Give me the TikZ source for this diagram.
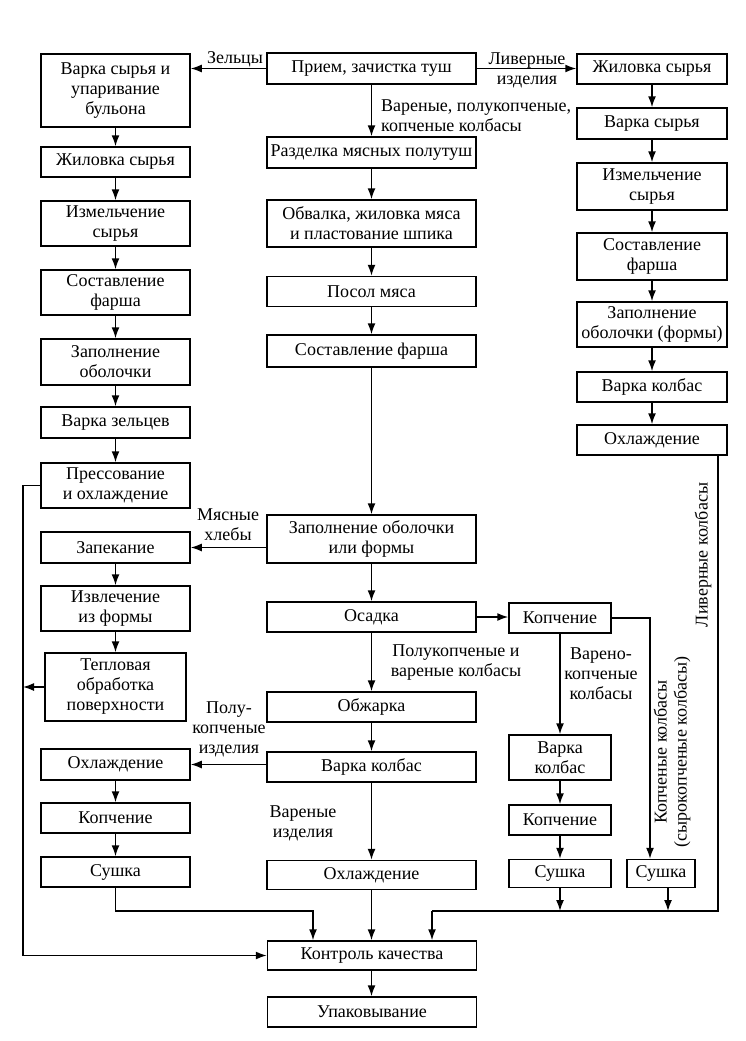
\documentclass[tikz,border=0pt]{standalone}
\usepackage{fontspec}
\setmainfont{Liberation Serif}
\usetikzlibrary{arrows.meta}
\tikzset{
  box/.style={draw, line width=1.5pt, align=center, inner sep=0pt, font=\fontsize{18}{20}\selectfont},
  lbl/.style={align=center, inner sep=0pt, font=\fontsize{18}{20}\selectfont},
  ln/.style={line width=1.5pt},
  arr/.style={line width=1.5pt, -{Latex[length=11pt,width=8pt]}},
  cw/.style={minimum width=209pt},
  lw/.style={minimum width=149pt},
  rw/.style={minimum width=150pt},
  mw/.style={minimum width=102pt}
}
\begin{document}
\begin{tikzpicture}[x=1pt,y=-1pt]
\useasboundingbox (0,0) rectangle (746,1041);
% centre column
\node[box,cw,minimum height=31pt] (c1) at (371.5,68.5) {Прием, зачистка туш};
\node[box,cw,minimum height=31pt] (c2) at (371.5,152.5) {Разделка мясных полутуш};
\node[box,cw,minimum height=47pt] (c3) at (371.5,223.5) {Обвалка, жиловка мяса\\и пластование шпика};
\node[box,cw,minimum height=30pt] (c4) at (371.5,291.5) {Посол мяса};
\node[box,cw,minimum height=32pt] (c5) at (371.5,351) {Составление фарша};
\node[box,cw,minimum height=48pt] (c6) at (371.5,539) {Заполнение оболочки\\или формы};
\node[box,cw,minimum height=30pt] (c7) at (371.5,617) {Осадка};
\node[box,cw,minimum height=30pt] (c8) at (371.5,707) {Обжарка};
\node[box,cw,minimum height=30pt] (c9) at (371.5,767) {Варка колбас};
\node[box,cw,minimum height=29pt] (c10) at (371.5,875) {Охлаждение};
\node[box,cw,minimum height=29pt] (c11) at (372,955.5) {Контроль качества};
\node[box,cw,minimum height=30pt] (c12) at (372,1012) {Упаковывание};
% left column
\node[box,lw,minimum height=73pt] (l1) at (115.5,90.5) {Варка сырья и\\упаривание\\бульона};
\node[box,lw,minimum height=30pt] (l2) at (115.5,162) {Жиловка сырья};
\node[box,lw,minimum height=45pt] (l3) at (115.5,223.5) {Измельчение\\сырья};
\node[box,lw,minimum height=45pt] (l4) at (115.5,292.5) {Составление\\фарша};
\node[box,lw,minimum height=46pt] (l5) at (115.5,362) {Заполнение\\оболочки};
\node[box,lw,minimum height=31pt] (l6) at (115.5,422.5) {Варка зельцев};
\node[box,lw,minimum height=45pt] (l7) at (115.5,485.5) {Прессование\\и охлаждение};
\node[box,lw,minimum height=31pt] (l8) at (115.5,547.5) {Запекание};
\node[box,lw,minimum height=45pt] (l9) at (115.5,608.5) {Извлечение\\из формы};
\node[box,minimum width=141pt,minimum height=68pt] (l10) at (115.5,687) {Тепловая\\обработка\\поверхности};
\node[box,lw,minimum height=31pt] (l11) at (115.5,764.5) {Охлаждение};
\node[box,lw,minimum height=30pt] (l12) at (115.5,818) {Копчение};
\node[box,lw,minimum height=30pt] (l13) at (115.5,872) {Сушка};
% right column
\node[box,rw,minimum height=30pt] (r1) at (652,69) {Жиловка сырья};
\node[box,rw,minimum height=31pt] (r2) at (652,123.5) {Варка сырья};
\node[box,rw,minimum height=47pt] (r3) at (652,186.5) {Измельчение\\сырья};
\node[box,rw,minimum height=47pt] (r4) at (652,256.5) {Составление\\фарша};
\node[box,rw,minimum height=45pt] (r5) at (652,324.5) {Заполнение\\оболочки (формы)};
\node[box,rw,minimum height=30pt] (r6) at (652,387) {Варка колбас};
\node[box,rw,minimum height=30pt] (r7) at (652,440) {Охлаждение};
% second-right column
\node[box,mw,minimum height=30pt] (m1) at (560,618) {Копчение};
\node[box,mw,minimum height=45pt] (m2) at (560,757.5) {Варка\\колбас};
\node[box,mw,minimum height=30pt] (m3) at (560,820) {Копчение};
\node[box,mw,minimum height=28pt] (m4) at (560,873.5) {Сушка};
\node[box,minimum width=68pt,minimum height=28pt] (s) at (661,873.5) {Сушка};
% labels
\node[lbl] (t1) at (235,59) {Зельцы};
\node[lbl] (t2) at (527,70) {Ливерные\\изделия};
\node[lbl,align=left,anchor=west] (t3) at (381,116) {Вареные, полукопченые,\\копченые колбасы};
\node[lbl] (t4) at (228,525) {Мясные\\хлебы};
\node[lbl] (t5) at (229,729) {Полу-\\копченые\\изделия};
\node[lbl] (t6) at (456,663) {Полукопченые и\\вареные колбасы};
\node[lbl] (t7) at (601,674) {Варено-\\копченые\\колбасы};
\node[lbl] (t8) at (303,823) {Вареные\\изделия};
\node[lbl,rotate=90] (t9) at (703,555) {Ливерные колбасы};
\node[lbl,rotate=90] (t10) at (672,752) {Копченые колбасы\\(сырокопченые колбасы)};
% centre arrows
\draw[arr] (c1) -- (c2);
\draw[arr] (c2) -- (c3);
\draw[arr] (c3) -- (c4);
\draw[arr] (c4) -- (c5);
\draw[arr] (c5) -- (c6);
\draw[arr] (c6) -- (c7);
\draw[arr] (c7) -- (c8);
\draw[arr] (c8) -- (c9);
\draw[arr] (c9) -- (c10);
\draw[arr] (c10) -- (c10 |- c11.north);
\draw[arr] (c11.south -| c10) -- (c12.north -| c10);
% branches from top
\draw[arr] (c1.west) -- (c1.west -| l1.east);
\draw[arr] (c1.east) -- (c1.east -| r1.west);
% left chain
\draw[arr] (l1) -- (l2);
\draw[arr] (l2) -- (l3);
\draw[arr] (l3) -- (l4);
\draw[arr] (l4) -- (l5);
\draw[arr] (l5) -- (l6);
\draw[arr] (l6) -- (l7);
\draw[arr] (l8) -- (l9);
\draw[arr] (l9) -- (l10);
\draw[arr] (l11) -- (l12);
\draw[arr] (l12) -- (l13);
\draw[arr] (l8.east -| c6.west) -- (l8.east);
\draw[arr] (l11.east -| c9.west) -- (l11.east);
% right chain
\draw[arr] (r1) -- (r2);
\draw[arr] (r2) -- (r3);
\draw[arr] (r3) -- (r4);
\draw[arr] (r4) -- (r5);
\draw[arr] (r5) -- (r6);
\draw[arr] (r6) -- (r7);
% smoking branch
\draw[arr] (c7.east) -- (c7.east -| m1.west);
\draw[arr] (m1) -- (m2);
\draw[arr] (m2) -- (m3);
\draw[arr] (m3) -- (m4);
\draw[arr] (m1.east) -| ([xshift=-11pt]s.north);
% left loop
\coordinate (lx) at (23,0);
\draw[arr] (l7.west) -- (l7.west -| lx) -- (lx |- c11.west) -- (c11.west);
\draw[arr] (l10.west) -- (l10.west -| lx);
\coordinate (k) at (313,911);
\draw[arr] (l13.south) |- (k) -- (k |- c11.north);
% right bus
\coordinate (bR) at (718,911);
\coordinate (bL) at (432,911);
\draw[ln] ([xshift=66pt]r7.south) -- (bR) -- (bL);
\draw[arr] (bL) -- (bL |- c11.north);
\draw[arr] (m4.south) -- (m4.south |- bR);
\draw[arr] ([xshift=7pt]s.south) -- ([xshift=7pt]s.south |- bR);
\end{tikzpicture}
\end{document}
